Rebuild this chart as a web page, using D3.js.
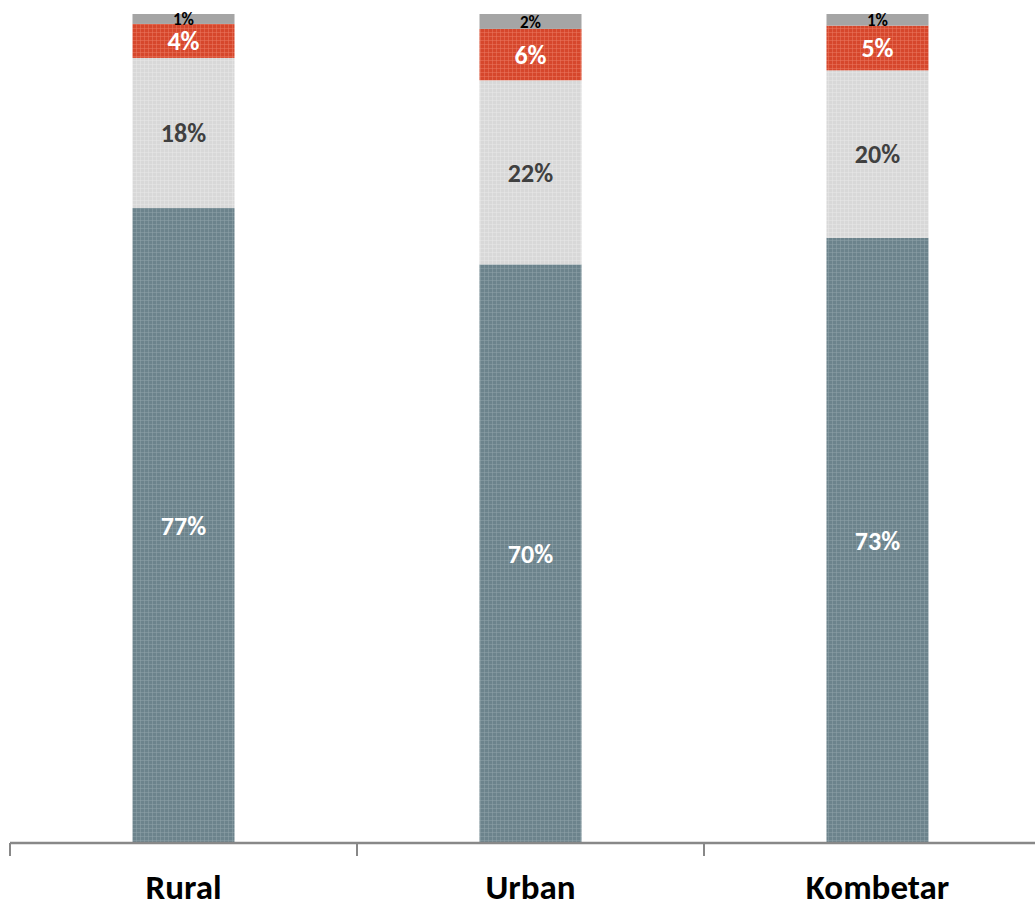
<!DOCTYPE html>
<html><head><meta charset="utf-8">
<script src="https://cdn.jsdelivr.net/npm/d3@7"></script>
<style>html,body{margin:0;padding:0;background:#fff;}svg{display:block;}</style>
</head><body>
<svg id="c" width="1035" height="907"></svg>
<script>
const categories = ["Rural", "Urban", "Kombetar"];
const seriesNames = ["s1", "s2", "s3", "s4"];
const s1 = [76.6, 69.8, 73.0];
const s2 = [18.1, 22.2, 20.2];
const s3 = [4.1, 6.2, 5.4];
const s4 = [1.2, 1.8, 1.4];
const seriesValues = [s1, s2, s3, s4];

const fills = ["url(#p1)", "url(#p2)", "url(#p3)", "#a5a5a5"];
const labelColors = ["#ffffff", "#404040", "#ffffff", "#000000"];
const labelSizes = [26, 26, 26, 17];

const svg = d3.select("#c");
const defs = svg.append("defs");
function pat(id, base, light) {
  const p = defs.append("pattern").attr("id", id).attr("patternUnits", "userSpaceOnUse")
    .attr("width", 4).attr("height", 4);
  p.append("rect").attr("width", 4).attr("height", 4).attr("fill", base);
  p.append("rect").attr("x", 0).attr("y", 0).attr("width", 4).attr("height", 1).attr("fill", light).attr("opacity", 0.5);
  p.append("rect").attr("x", 0).attr("y", 0).attr("width", 1).attr("height", 4).attr("fill", light).attr("opacity", 0.5);
}
pat("p1", "#6c838c", "#8fa3aa");
pat("p2", "#d8d8d8", "#e8e8e8");
pat("p3", "#d6472c", "#ea7a62");

const table = categories.map((c, i) => {
  const o = {cat: c};
  seriesNames.forEach((s, j) => o[s] = seriesValues[j][i]);
  return o;
});
const stack = d3.stack().keys(seriesNames)(table);

const x = d3.scaleBand().domain(categories).range([10, 1051]).paddingInner(0.706).paddingOuter(0.353);
const y = d3.scaleLinear().domain([0, 100]).range([843, 14]);

const g = svg.append("g");
stack.forEach((layer, j) => {
  const lg = g.append("g");
  lg.selectAll("rect").data(layer).join("rect")
    .attr("x", d => x(d.data.cat))
    .attr("width", x.bandwidth())
    .attr("y", d => y(d[1]))
    .attr("height", d => y(d[0]) - y(d[1]))
    .attr("fill", fills[j]);
});
stack.forEach((layer, j) => {
  g.append("g").selectAll("text").data(layer).join("text")
    .attr("x", d => x(d.data.cat) + x.bandwidth() / 2)
    .attr("y", d => (y(d[0]) + y(d[1])) / 2)
    .attr("dy", "0.36em")
    .attr("text-anchor", "middle")
    .attr("font-family", "Carlito, Lato, sans-serif")
    .attr("font-weight", "bold")
    .attr("font-size", labelSizes[j])
    .attr("fill", labelColors[j])
    .text(d => Math.round(d[1] - d[0]) + "%");
});

// axis
const ax = svg.append("g").attr("transform", "translate(0,843)");
const step = x.step();
const x0 = x.range()[0];
ax.append("line").attr("x1", x0).attr("x2", 1035).attr("y1", 0).attr("y2", 0)
  .attr("stroke", "#888888").attr("stroke-width", 2.5);
const bounds = d3.range(categories.length + 1).map(i => x0 + i * step);
ax.selectAll("line.t").data(bounds).join("line").attr("class", "t")
  .attr("x1", d => d).attr("x2", d => d).attr("y1", 0).attr("y2", 13)
  .attr("stroke", "#888888").attr("stroke-width", 2);

const axis = d3.axisBottom(x).tickSize(0).tickPadding(0);
const axg = svg.append("g").attr("transform", "translate(0,843)").call(axis);
axg.select(".domain").remove();
axg.selectAll("text")
  .attr("y", 56).attr("dy", "0")
  .attr("font-family", "Carlito, Lato, sans-serif")
  .attr("font-weight", "bold")
  .attr("font-size", 35)
  .attr("fill", "#000");
</script>
</body></html>
